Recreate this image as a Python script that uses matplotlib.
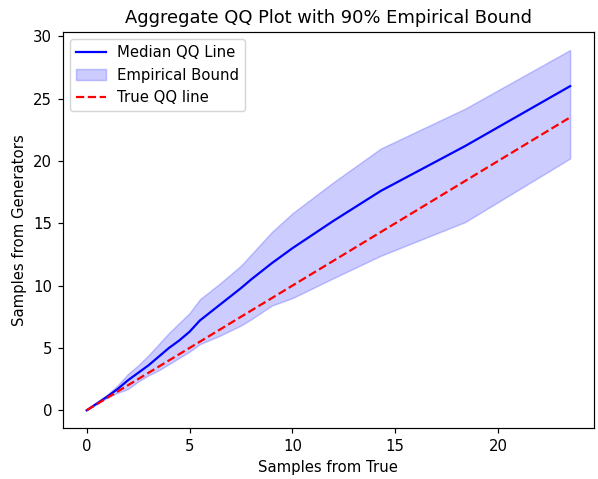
import matplotlib
matplotlib.use("Agg")
import matplotlib.pyplot as plt

x_true = [0, 0.5, 1.0, 1.5, 2.0, 2.5, 3.0, 3.5, 4.0, 4.5, 5.0, 5.5, 6.5, 7.5, 8.0, 9.0, 10.0, 12.0, 14.3, 18.4, 23.5]
median = [0, 0.55, 1.1, 1.7, 2.4, 3.0, 3.6, 4.3, 5.0, 5.6, 6.3, 7.2, 8.5, 9.8, 10.5, 11.8, 13.0, 15.2, 17.6, 21.2, 26.0]
upper = [0, 0.6, 1.25, 2.0, 2.9, 3.6, 4.4, 5.3, 6.2, 7.0, 7.8, 8.9, 10.2, 11.6, 12.5, 14.3, 15.8, 18.3, 21.0, 24.2, 28.9]
lower = [0, 0.5, 1.0, 1.4, 1.7, 2.3, 2.8, 3.2, 3.7, 4.2, 4.7, 5.3, 6.0, 6.8, 7.3, 8.4, 9.0, 10.6, 12.4, 15.1, 20.2]

DPI = 107
W, H = 598, 479
fig = plt.figure(figsize=(W / DPI, H / DPI), dpi=DPI)
ax = fig.add_axes([62.5 / W, 1 - 428.3 / H, (594.3 - 62.5) / W, (428.3 - 32) / H])
ax.plot(x_true, median, color="blue", label="Median QQ Line")
ax.fill_between(x_true, lower, upper, color="blue", alpha=0.2, label="Empirical Bound")
ax.plot(x_true, x_true, color="red", linestyle="--", label="True QQ line")
ax.set_xlabel("Samples from True")
ax.set_ylabel("Samples from Generators")
ax.set_title("Aggregate QQ Plot with 90% Empirical Bound")
ax.legend(loc="upper left")
fig.savefig("out.png", dpi=DPI)
